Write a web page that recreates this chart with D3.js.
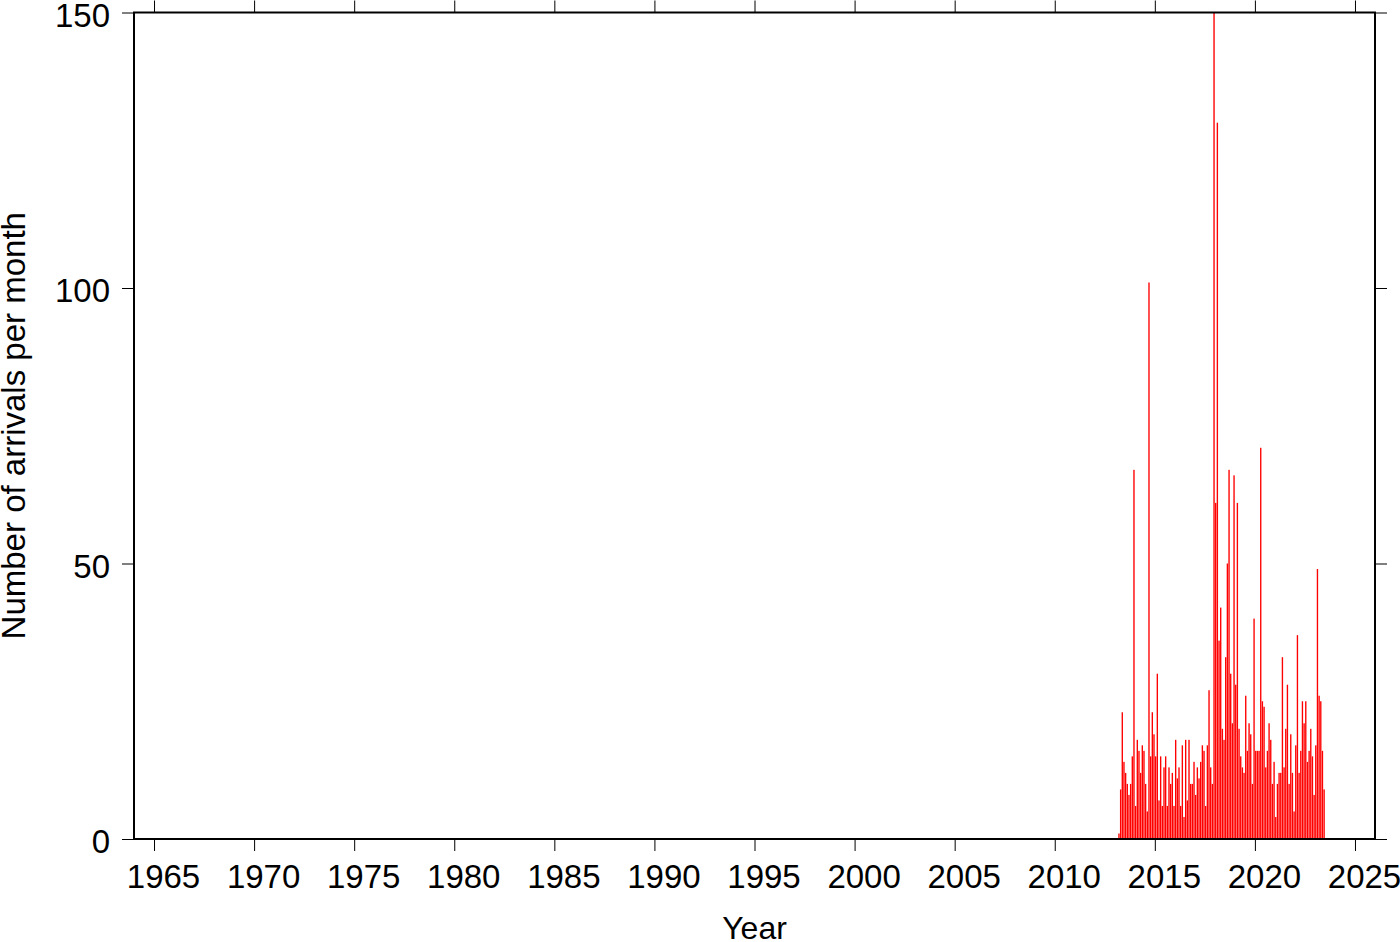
<!DOCTYPE html>
<html>
<head>
<meta charset="utf-8">
<script src="https://cdn.jsdelivr.net/npm/d3@7"></script>
<style>
  html, body { margin: 0; padding: 0; background: #fff; }
  svg { display: block; }
  text { font-family: "Liberation Sans", Arial, Helvetica, sans-serif; fill: #000; }
</style>
</head>
<body>
<svg id="chart" width="1400" height="942"></svg>
<script>
// ---- data ----
const startYear = 2013;
const startMonth = 2; // March (0-based)
const arrivals = [
  1,9,23,14,12,10,8,10,15,67,6,18,16,12,17,16,10,5,101,15,23,19,15,30,7,15,6,13,15,6,13,10,
  12,6,18,11,13,6,17,4,18,7,18,10,10,14,8,13,11,14,17,16,6,17,27,13,10,150,61,130,36,42,20,18,33,50,67,30,21,66,28,61,
  20,15,13,12,26,16,21,19,10,40,16,16,16,71,25,24,13,16,21,18,10,14,4,10,12,12,33,13,20,
  28,10,19,12,5,17,37,12,16,25,21,25,14,16,20,15,8,17,49,26,25,16,9
];
const xTicks = [1965,1970,1975,1980,1985,1990,1995,2000,2005,2010,2015,2020,2025];
const yTicks = [0,50,100,150];
const xTitle = "Year";
const yTitle = "Number of arrivals per month";

// months as decimal years (start of month)
const months = arrivals.map((_, i) => startYear + (startMonth + i) / 12);

// ---- layout ----
const L = 134, R = 1375, T = 12.5, B = 839;
const svg = d3.select("#chart");
const x = d3.scaleLinear().domain([1964, 2026]).range([L, R]);
const y = d3.scaleLinear().domain([0, 150]).range([B, T]);

svg.append("defs").append("clipPath").attr("id", "clip")
  .append("rect").attr("x", L).attr("y", T).attr("width", R - L).attr("height", B - T);

// bars
const mw = x(1 / 12) - x(0);
svg.append("g").attr("clip-path", "url(#clip)")
  .selectAll("rect").data(arrivals).join("rect")
  .attr("x", (d, i) => x(months[i]) + 0.15)
  .attr("width", mw - 0.3)
  .attr("y", d => y(d))
  .attr("height", d => B - y(d))
  .attr("fill", "#ff0000");

// axes
const fs = 33;
const tickLen = 12;
const axB = svg.append("g").attr("transform", `translate(0,${B})`)
  .call(d3.axisBottom(x).tickValues(xTicks).tickSize(tickLen).tickPadding(10).tickFormat(d3.format("d")));
const axT = svg.append("g").attr("transform", `translate(0,${T})`)
  .call(d3.axisTop(x).tickValues(xTicks).tickSize(tickLen).tickFormat(""));
const axL = svg.append("g").attr("transform", `translate(${L},0)`)
  .call(d3.axisLeft(y).tickValues(yTicks).tickSize(tickLen).tickPadding(12).tickFormat(d3.format("d")));
const axR = svg.append("g").attr("transform", `translate(${R},0)`)
  .call(d3.axisRight(y).tickValues(yTicks).tickSize(tickLen).tickFormat(""));

[axB, axT, axL, axR].forEach(a => {
  a.select(".domain").remove();
  a.selectAll(".tick line").attr("stroke", "#000").attr("stroke-width", 1);
  a.selectAll(".tick text").attr("font-size", fs).attr("fill", "#000")
    .style("font-family", '"Liberation Sans", Arial, Helvetica, sans-serif');
});
axL.selectAll(".tick text").attr("dy", "0.42em");
axB.selectAll(".tick text").attr("dy", "0.83em").attr("dx", 9);

// frame
svg.append("rect").attr("x", L).attr("y", T).attr("width", R - L).attr("height", B - T)
  .attr("fill", "none").attr("stroke", "#000").attr("stroke-width", 2);

// titles
svg.append("text").attr("x", (L + R) / 2).attr("y", 939)
  .attr("text-anchor", "middle").attr("font-size", 32).text(xTitle);
svg.append("text").attr("transform", `translate(24.5,${(T + B) / 2}) rotate(-90)`)
  .attr("text-anchor", "middle").attr("font-size", 33).text(yTitle);
</script>
</body>
</html>
